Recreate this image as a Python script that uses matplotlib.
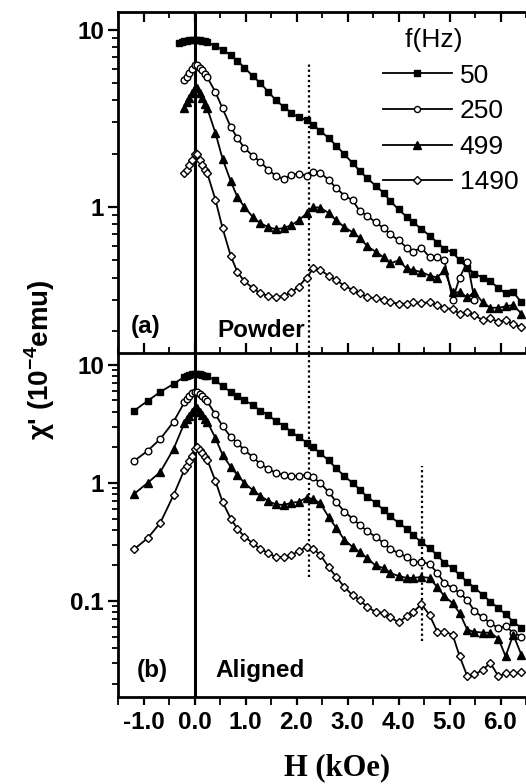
import numpy as np
import matplotlib
matplotlib.use('Agg')
import matplotlib.pyplot as plt
from matplotlib.ticker import MultipleLocator, LogLocator, FuncFormatter, NullFormatter

nan = np.nan

freq_labels = ['50', '250', '499', '1490']

# ---- panel (a) Powder ----
H_top = [-0.30, -0.25, -0.20, -0.15, -0.10, -0.05, 0.00, 0.05, 0.10, 0.15, 0.20,
         0.25, 0.41, 0.55, 0.71, 0.84, 0.98, 1.14, 1.29, 1.45, 1.59,
         1.75, 1.90, 2.04, 2.20, 2.33, 2.47, 2.63, 2.78, 2.94, 3.10,
         3.24, 3.39, 3.55, 3.71, 3.84, 4.00, 4.16, 4.29, 4.45, 4.61,
         4.76, 4.90, 5.06, 5.20, 5.35, 5.49, 5.65, 5.80, 5.96, 6.10,
         6.25, 6.41]

chi_top_50 = [8.4, 8.5, 8.6, 8.7, 8.75, 8.8, 8.8, 8.8, 8.75, 8.7, 8.6,
              8.5, 8.1, 7.7, 7.2, 6.7, 6.1, 5.5, 5.0, 4.46, 4.02,
              3.67, 3.4, 3.2, 3.1, 2.9, 2.68, 2.45, 2.22, 1.98, 1.77,
              1.6, 1.45, 1.32, 1.2, 1.08, 0.97, 0.88, 0.82, 0.75, 0.69,
              0.63, 0.58, 0.555, 0.50, 0.455, 0.42, 0.40, 0.38, 0.35, 0.325,
              0.33, 0.29]

chi_top_250 = [nan, nan, 5.2, 5.4, 5.7, 6.0, 6.3, 6.3, 6.1, 5.9, 5.6,
               5.4, 4.45, 3.6, 2.83, 2.45, 2.15, 1.95, 1.8, 1.62, 1.5,
               1.44, 1.52, 1.54, 1.50, 1.58, 1.56, 1.42, 1.28, 1.16, 1.09,
               0.95, 0.89, 0.82, 0.76, 0.70, 0.65, 0.59, 0.56, 0.59, 0.52,
               0.52, 0.50, 0.30, 0.40, 0.49, 0.30, nan, nan, nan, nan,
               nan, nan]

chi_top_499 = [nan, nan, 3.6, 3.9, 4.1, 4.4, 4.7, 4.7, 4.4, 4.1, 3.8,
               3.6, 2.62, 1.87, 1.40, 1.14, 1.0, 0.88, 0.81, 0.77, 0.75,
               0.76, 0.79, 0.84, 0.92, 1.0, 0.99, 0.925, 0.84, 0.77, 0.72,
               0.67, 0.60, 0.56, 0.52, 0.48, 0.50, 0.45, 0.44, 0.43, 0.41,
               0.40, 0.44, 0.33, 0.33, 0.31, 0.33, 0.29, 0.27, 0.27, 0.275,
               0.28, 0.25]

chi_top_1490 = [nan, nan, 1.55, 1.62, 1.72, 1.85, 2.0, 2.0, 1.85, 1.72, 1.62,
                1.55, 1.10, 0.76, 0.53, 0.43, 0.38, 0.35, 0.325, 0.315, 0.31,
                0.315, 0.33, 0.355, 0.40, 0.45, 0.44, 0.41, 0.385, 0.36, 0.34,
                0.325, 0.31, 0.305, 0.30, 0.29, 0.285, 0.285, 0.29, 0.287, 0.29,
                0.28, 0.27, 0.265, 0.25, 0.255, 0.245, 0.23, 0.235, 0.225, 0.23,
                0.218, 0.21]

# ---- panel (b) Aligned ----
H_bot = [-1.18, -0.92, -0.67, -0.41, -0.20, -0.15, -0.10, -0.05, 0.00, 0.05, 0.10, 0.15, 0.20,
         0.25, 0.41, 0.55, 0.71, 0.84, 0.98, 1.14, 1.29, 1.45, 1.59,
         1.75, 1.90, 2.04, 2.20, 2.33, 2.47, 2.63, 2.78, 2.94, 3.10,
         3.24, 3.39, 3.55, 3.71, 3.84, 4.00, 4.16, 4.29, 4.45, 4.61,
         4.76, 4.90, 5.06, 5.20, 5.35, 5.49, 5.65, 5.80, 5.96, 6.10,
         6.25, 6.41]

chi_bot_50 = [4.1, 4.95, 5.9, 6.9, 7.9, 8.1, 8.2, 8.3, 8.4, 8.4, 8.3, 8.2, 8.1,
              8.0, 7.4, 6.6, 5.9, 5.5, 5.0, 4.58, 4.1, 3.75, 3.35,
              3.05, 2.7, 2.45, 2.2, 2.0, 1.78, 1.55, 1.33, 1.14, 1.0,
              0.88, 0.76, 0.68, 0.59, 0.52, 0.46, 0.41, 0.36, 0.316, 0.28,
              0.245, 0.21, 0.19, 0.166, 0.145, 0.13, 0.113, 0.099, 0.087, 0.077,
              0.067, 0.059]

chi_bot_250 = [1.54, 1.87, 2.36, 3.3, 4.8, 5.1, 5.4, 5.8, 5.9, 5.9, 5.7, 5.4, 5.1,
               4.9, 3.8, 3.04, 2.45, 2.18, 1.9, 1.66, 1.45, 1.31, 1.22,
               1.17, 1.15, 1.15, 1.17, 1.12, 0.99, 0.84, 0.69, 0.57, 0.50,
               0.44, 0.39, 0.35, 0.31, 0.276, 0.255, 0.236, 0.214, 0.214, 0.206,
               0.173, 0.142, 0.129, 0.117, 0.102, 0.082, 0.073, 0.065, 0.059, 0.061,
               0.054, 0.05]

chi_bot_499 = [0.81, 1.0, 1.24, 1.94, 3.2, 3.5, 3.7, 4.0, 4.3, 4.3, 4.0, 3.75, 3.45,
               3.3, 2.4, 1.73, 1.37, 1.17, 1.0, 0.87, 0.78, 0.70, 0.66,
               0.65, 0.68, 0.69, 0.75, 0.73, 0.67, 0.515, 0.415, 0.33, 0.287,
               0.26, 0.23, 0.20, 0.19, 0.173, 0.163, 0.157, 0.157, 0.16, 0.157,
               0.131, 0.11, 0.096, 0.079, 0.057, 0.055, 0.054, 0.054, 0.048, 0.034,
               0.052, 0.035]

chi_bot_1490 = [0.276, 0.34, 0.46, 0.79, 1.29, 1.4, 1.52, 1.7, 1.95, 2.02, 1.9, 1.8, 1.65,
                1.57, 1.04, 0.69, 0.50, 0.41, 0.35, 0.31, 0.276, 0.255, 0.236,
                0.236, 0.245, 0.265, 0.287, 0.276, 0.245, 0.194, 0.16, 0.131, 0.112,
                0.102, 0.089, 0.081, 0.079, 0.073, 0.066, 0.074, 0.081, 0.094, 0.076,
                0.055, 0.055, 0.052, 0.034, 0.023, 0.024, 0.026, 0.030, 0.023, 0.0245,
                0.0245, 0.025]

# dotted guide lines: (H, chi_low, chi_high)
guides_top = [(2.25, 0.15, 6.5)]
guides_bot = [(2.25, 0.16, 12.6), (4.47, 0.046, 1.39)]

x_ticks = [-1.0, 0.0, 1.0, 2.0, 3.0, 4.0, 5.0, 6.0]
x_tick_labels = ['-1.0', '0.0', '1.0', '2.0', '3.0', '4.0', '5.0', '6.0']

plt.rcParams['font.family'] = ['Liberation Sans', 'DejaVu Sans']
plt.rcParams['mathtext.fontset'] = 'custom'
plt.rcParams['mathtext.rm'] = 'Liberation Sans:bold'
plt.rcParams['mathtext.bf'] = 'Liberation Sans:bold'

W, Hh = 526, 784
fig = plt.figure(figsize=(W / 100, Hh / 100), dpi=100)

axL, axR = 118 / W, 1.0
ax2 = fig.add_axes([axL, 1 - 697 / Hh, axR - axL, 344 / Hh])
ax1 = fig.add_axes([axL, 1 - 353 / Hh, axR - axL, 341 / Hh])
ax1.patch.set_visible(False)
ax2.patch.set_visible(False)

styles = [
    dict(marker='s', ms=4.5, mfc='black', mec='black'),
    dict(marker='o', ms=4.8, mfc='white', mec='black', mew=1.0),
    dict(marker='^', ms=6.2, mfc='black', mec='black'),
    dict(marker='D', ms=4.2, mfc='white', mec='black', mew=1.0),
]

top_series = [chi_top_50, chi_top_250, chi_top_499, chi_top_1490]
bot_series = [chi_bot_50, chi_bot_250, chi_bot_499, chi_bot_1490]

lines = []
for vals, st, lab in zip(top_series, styles, freq_labels):
    ln, = ax1.plot(H_top, vals, color='black', lw=1.3, label=lab, **st)
    lines.append(ln)
for vals, st in zip(bot_series, styles):
    ax2.plot(H_bot, vals, color='black', lw=1.3, **st)

for ax in (ax1, ax2):
    ax.axvline(0.0, color='black', lw=2.2, zorder=1)
dot_style = dict(color='black', lw=1.6, ls=(0, (1.0, 1.3)), zorder=1)
for (h, lo, hi) in guides_top:
    ax1.plot([h, h], [lo, hi], **dot_style)
for (h, lo, hi) in guides_bot:
    ax2.plot([h, h], [lo, hi], **dot_style)

fmt = FuncFormatter(lambda v, p: '%g' % v)
for ax in (ax1, ax2):
    ax.set_yscale('log')
    ax.set_xlim(-1.5, 6.5)
    ax.xaxis.set_major_locator(MultipleLocator(1.0))
    ax.xaxis.set_minor_locator(MultipleLocator(0.5))
    ax.yaxis.set_major_locator(LogLocator(base=10))
    ax.yaxis.set_minor_locator(LogLocator(base=10, subs=np.arange(2, 10)))
    ax.yaxis.set_major_formatter(fmt)
    ax.yaxis.set_minor_formatter(NullFormatter())
    ax.spines['right'].set_visible(False)
    for s in ('left', 'top', 'bottom'):
        ax.spines[s].set_linewidth(2.0)
    ax.tick_params(axis='y', which='major', direction='out', length=7, width=1.6,
                   labelsize=17.5, pad=3)
    ax.tick_params(axis='y', which='minor', direction='out', length=4, width=1.3)
    for lab in ax.get_yticklabels():
        lab.set_fontweight('bold')

ax1.set_ylim(0.15, 12.6)
ax2.set_ylim(0.0154, 12.6)

ax1.tick_params(axis='x', which='both', direction='in', top=True, bottom=True,
                labelbottom=False)
ax1.tick_params(axis='x', which='major', length=7, width=1.6)
ax1.tick_params(axis='x', which='minor', length=4, width=1.3)

ax2.spines['top'].set_visible(False)
ax2.tick_params(axis='x', which='both', direction='out', top=False, bottom=True)
ax2.tick_params(axis='x', which='major', length=6, width=1.6, labelsize=17.5, pad=4)
ax2.tick_params(axis='x', which='minor', length=6, width=1.3)
ax2.set_xticks(x_ticks)
ax2.set_xticklabels(x_tick_labels, fontweight='bold', fontsize=17.5)

ax1.text(146 / W, 1 - 327 / Hh, '(a)', transform=fig.transFigure, fontsize=17.5,
         fontweight='bold', ha='center', va='center')
ax1.text(261 / W, 1 - 331 / Hh, 'Powder', transform=fig.transFigure, fontsize=17.5,
         fontweight='bold', ha='center', va='center')
ax2.text(152 / W, 1 - 671 / Hh, '(b)', transform=fig.transFigure, fontsize=17.5,
         fontweight='bold', ha='center', va='center')
ax2.text(260 / W, 1 - 671 / Hh, 'Aligned', transform=fig.transFigure, fontsize=17.5,
         fontweight='bold', ha='center', va='center')

fig.text(40 / W, 1 - 360 / Hh, "χ' (10$^{-4}$emu)", rotation=90, fontsize=20,
         fontweight='bold', ha='center', va='center')
fig.text(337 / W, 1 - 768 / Hh, 'H (kOe)', fontsize=22, fontweight='bold',
         family='Liberation Serif', ha='center', va='center')

leg = ax1.legend(handles=lines, title='f(Hz)', loc='upper left',
                 bbox_to_anchor=(383 / W, 1 - 28 / Hh), bbox_transform=fig.transFigure,
                 frameon=False, fontsize=19, title_fontsize=19, numpoints=1,
                 handlelength=2.6, handletextpad=0.3, labelspacing=0.44,
                 borderpad=0, borderaxespad=0, markerscale=0.9)
leg._legend_box.align = 'left'
leg.get_title().set_text('   f(Hz)')

fig.savefig('out.png', dpi=100)
